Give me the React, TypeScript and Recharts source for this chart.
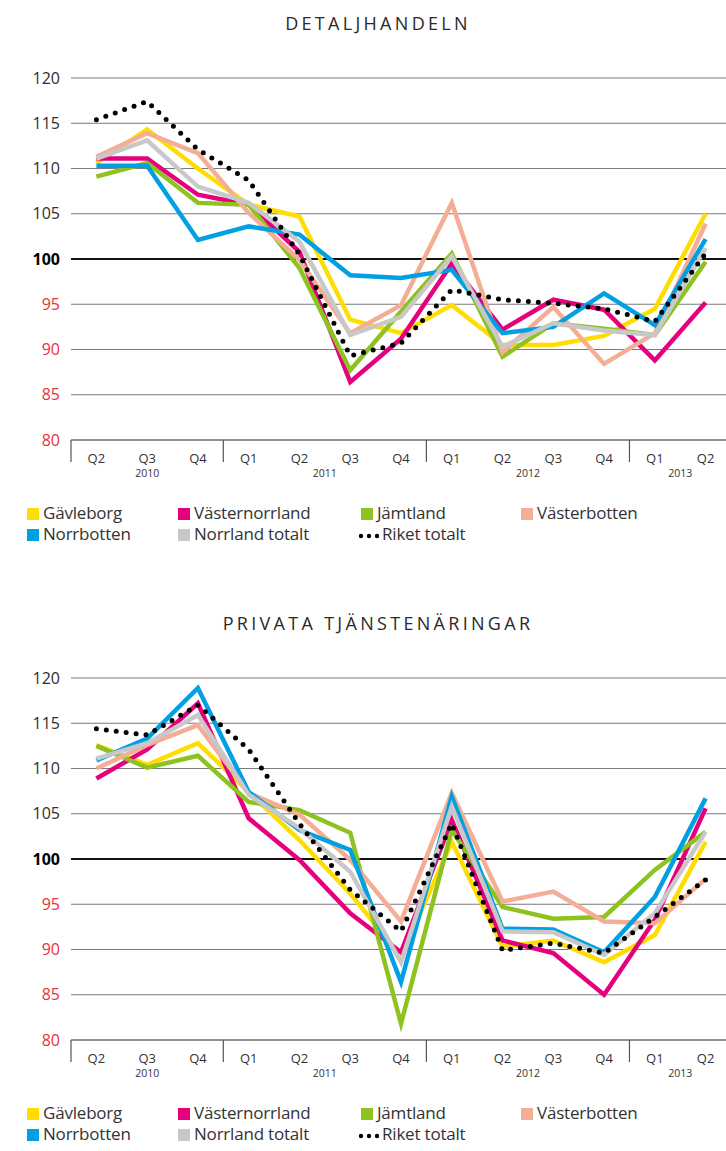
import React from 'react';
import { LineChart, Line, XAxis, YAxis, CartesianGrid, ReferenceLine, Legend } from 'recharts';

// ---- categories ----
const quarters = ['Q2', 'Q3', 'Q4', 'Q1', 'Q2', 'Q3', 'Q4', 'Q1', 'Q2', 'Q3', 'Q4', 'Q1', 'Q2'];
const years = ['2010', '2010', '2010', '2011', '2011', '2011', '2011', '2012', '2012', '2012', '2012', '2013', '2013'];
const yTicks = [80, 85, 90, 95, 100, 105, 110, 115, 120];

// ---- series ----
const seriesNames = ['Gävleborg', 'Västernorrland', 'Jämtland', 'Västerbotten', 'Norrbotten', 'Norrland totalt', 'Riket totalt'];
const seriesColors = ['#FFDD00', '#E5007D', '#8DC21F', '#F4AE96', '#00A0E3', '#C8C8C8', '#000000'];

// Detaljhandeln
const detGavleborg = [110.6, 114.3, 110.0, 106.0, 104.7, 93.3, 91.8, 94.9, 90.5, 90.5, 91.5, 94.5, 105.0];
const detVasternorrland = [111.1, 111.1, 107.1, 106.0, 100.8, 86.4, 91.2, 99.5, 92.2, 95.5, 94.4, 88.8, 95.2];
const detJamtland = [109.1, 110.6, 106.2, 106.0, 99.0, 87.7, 94.2, 100.6, 89.2, 92.9, 92.3, 91.6, 99.7];
const detVasterbotten = [111.3, 113.9, 111.7, 105.1, 99.9, 91.8, 94.9, 106.2, 89.7, 94.7, 88.4, 91.8, 103.9];
const detNorrbotten = [110.3, 110.3, 102.1, 103.6, 102.7, 98.2, 97.9, 98.8, 91.8, 92.5, 96.2, 92.7, 102.2];
const detNorrland = [111.1, 113.1, 108.0, 106.2, 101.9, 91.6, 93.6, 100.3, 90.3, 92.9, 92.1, 91.6, 101.2];
const detRiket = [115.4, 117.4, 112.1, 108.7, 100.5, 89.3, 90.7, 96.6, 95.5, 95.1, 94.5, 93.1, 100.6];

// Privata tjänstenäringar
const privGavleborg = [112.6, 110.4, 112.8, 107.4, 102.1, 96.2, 89.2, 101.9, 90.3, 91.0, 88.6, 91.6, 101.9];
const privVasternorrland = [108.9, 112.1, 117.2, 104.5, 99.9, 94.0, 89.7, 104.3, 91.0, 89.6, 85.0, 93.3, 105.6];
const privJamtland = [112.5, 110.1, 111.4, 106.3, 105.4, 102.9, 81.8, 103.2, 94.7, 93.4, 93.6, 98.8, 103.0];
const privVasterbotten = [110.0, 112.6, 114.8, 107.3, 104.9, 99.9, 93.1, 107.3, 95.3, 96.4, 93.1, 92.9, 97.8];
const privNorrbotten = [110.9, 113.3, 118.9, 107.4, 103.2, 101.0, 86.4, 106.9, 92.3, 92.2, 89.7, 95.8, 106.7];
const privNorrland = [111.1, 112.8, 115.9, 107.1, 103.4, 98.6, 88.6, 105.8, 92.0, 91.9, 89.4, 94.0, 103.0];
const privRiket = [114.4, 113.7, 117.0, 112.1, 103.9, 96.6, 92.0, 103.9, 89.9, 90.7, 89.6, 93.6, 97.7];

const detSeries = [detGavleborg, detVasternorrland, detJamtland, detVasterbotten, detNorrbotten, detNorrland, detRiket];
const privSeries = [privGavleborg, privVasternorrland, privJamtland, privVasterbotten, privNorrbotten, privNorrland, privRiket];

const FONT = '"Open Sans", "DejaVu Sans", sans-serif';
const periods = quarters.map((q, i) => `${years[i]}|${q}`);

function buildRows(series: number[][]) {
  return periods.map((p, i) => {
    const row: Record<string, any> = { period: p };
    series.forEach((s, k) => {
      row[`s${k}`] = s[i];
    });
    return row;
  });
}

function YTick(props: any) {
  const { x, y, payload } = props;
  const v = Number(payload.value);
  let fill = '#2e2e2e';
  let weight: any = 400;
  if (v === 100) {
    fill = '#000';
    weight = 700;
  } else if (v < 100) {
    fill = '#E8323C';
  }
  return (
    <text x={x - 11} y={y} dy="0.35em" textAnchor="end" fontSize={16} fontFamily={FONT} fill={fill} fontWeight={weight}>
      {v}
    </text>
  );
}

function XTick(props: any) {
  const { x, y, payload } = props;
  const [yr, q] = String(payload.value).split('|');
  const idx = periods.indexOf(String(payload.value));
  const half = typeof payload.offset === 'number' && payload.offset > 0 ? payload.offset : 25.4;
  const isFirst = idx === 0 || years[idx - 1] !== yr;
  const count = years.filter((v) => v === yr).length;
  return (
    <g>
      {isFirst && <line x1={x - half} x2={x - half} y1={y} y2={y + 22} stroke="#555" strokeWidth={1.2} />}
      <text x={x} y={y + 23} textAnchor="middle" fontSize={13} fontFamily={FONT} fill="#333">
        {q}
      </text>
      {isFirst && (
        <text x={x + (count - 1) * half} y={y + 37} textAnchor="middle" fontSize={10.5} fontFamily={FONT} fill="#333">
          {yr}
        </text>
      )}
    </g>
  );
}

const legendCols = [27, 178, 361, 521];
const legendRows = [13, 34];

function LegendContent() {
  return (
    <div style={{ position: 'relative', width: 726, height: 50, fontFamily: FONT, fontSize: 17, color: '#333' }}>
      {seriesNames.map((name, i) => {
        const col = i % 4;
        const row = Math.floor(i / 4);
        const left = legendCols[col];
        const cy = legendRows[row];
        const isDots = i === seriesNames.length - 1;
        return (
          <div key={name} style={{ position: 'absolute', left: isDots ? left - 3 : left, top: cy - 11, height: 22, display: 'flex', alignItems: 'center', whiteSpace: 'nowrap' }}>
            {isDots ? (
              <svg width={24} height={22} style={{ display: 'block' }}>
                {[0, 1, 2].map((d) => (
                  <circle key={d} cx={3 + d * 8} cy={13} r={2.2} fill={seriesColors[i]} />
                ))}
              </svg>
            ) : (
              <span style={{ display: 'inline-block', width: 12, height: 12, background: seriesColors[i], marginTop: 2 }} />
            )}
            <span style={{ marginLeft: isDots ? 0 : 4, lineHeight: '22px', letterSpacing: -0.2 }}>{name}</span>
          </div>
        );
      })}
    </div>
  );
}

function Panel({ title, series, top }: { title: string; series: number[][]; top: number }) {
  const rows = buildRows(series);
  return (
    <div style={{ position: 'absolute', left: 0, top, width: 726, height: 600, overflow: 'hidden' }}>
      <div
        style={{
          position: 'absolute',
          left: 0,
          top: 14,
          width: 756,
          textAlign: 'center',
          fontFamily: FONT,
          fontSize: 18,
          lineHeight: '18px',
          letterSpacing: 3.3,
          color: '#2a2a2a',
        }}
      >
        {title}
      </div>
      <div style={{ position: 'absolute', left: 0, top: 0 }}>
        <LineChart width={740} height={560} data={rows} margin={{ top: 78, right: 9, left: 11, bottom: 75 }}>
          <CartesianGrid horizontal vertical={false} stroke="#7a7a7a" strokeWidth={1.2} />
          <XAxis
            dataKey="period"
            scale="band"
            interval={0}
            height={45}
            tickSize={0}
            tickMargin={0}
            tickLine={false}
            axisLine={{ stroke: '#666', strokeWidth: 1.2 }}
            tick={<XTick />}
          />
          <YAxis
            width={60}
            domain={[80, 120]}
            ticks={yTicks}
            interval={0}
            allowDataOverflow
            axisLine={false}
            tickLine={false}
            tickSize={0}
            tickMargin={0}
            tick={<YTick />}
          />
          <ReferenceLine y={100} stroke="#111" strokeWidth={2} />
          {seriesNames.map((name, k) =>
            k === seriesNames.length - 1 ? (
              <Line
                key={name}
                name={name}
                dataKey={`s${k}`}
                stroke={seriesColors[k]}
                strokeWidth={5}
                strokeDasharray="0 10"
                strokeLinecap="round"
                dot={false}
                activeDot={false}
                isAnimationActive={false}
              />
            ) : (
              <Line
                key={name}
                name={name}
                dataKey={`s${k}`}
                stroke={seriesColors[k]}
                strokeWidth={4.5}
                strokeLinejoin="miter"
                dot={false}
                activeDot={false}
                isAnimationActive={false}
              />
            )
          )}
          <Legend
            layout="horizontal"
            verticalAlign="middle"
            align="center"
            width={726}
            content={<LegendContent />}
            wrapperStyle={{ position: 'absolute', top: 500, left: 0, width: 726, height: 50 }}
          />
        </LineChart>
      </div>
    </div>
  );
}

export default function App() {
  return (
    <div style={{ position: 'absolute', left: 0, top: 0, width: 726, height: 1151, overflow: 'hidden', background: '#fff' }}>
      <Panel title="DETALJHANDELN" series={detSeries} top={0} />
      <Panel title="PRIVATA TJÄNSTENÄRINGAR" series={privSeries} top={600} />
    </div>
  );
}
